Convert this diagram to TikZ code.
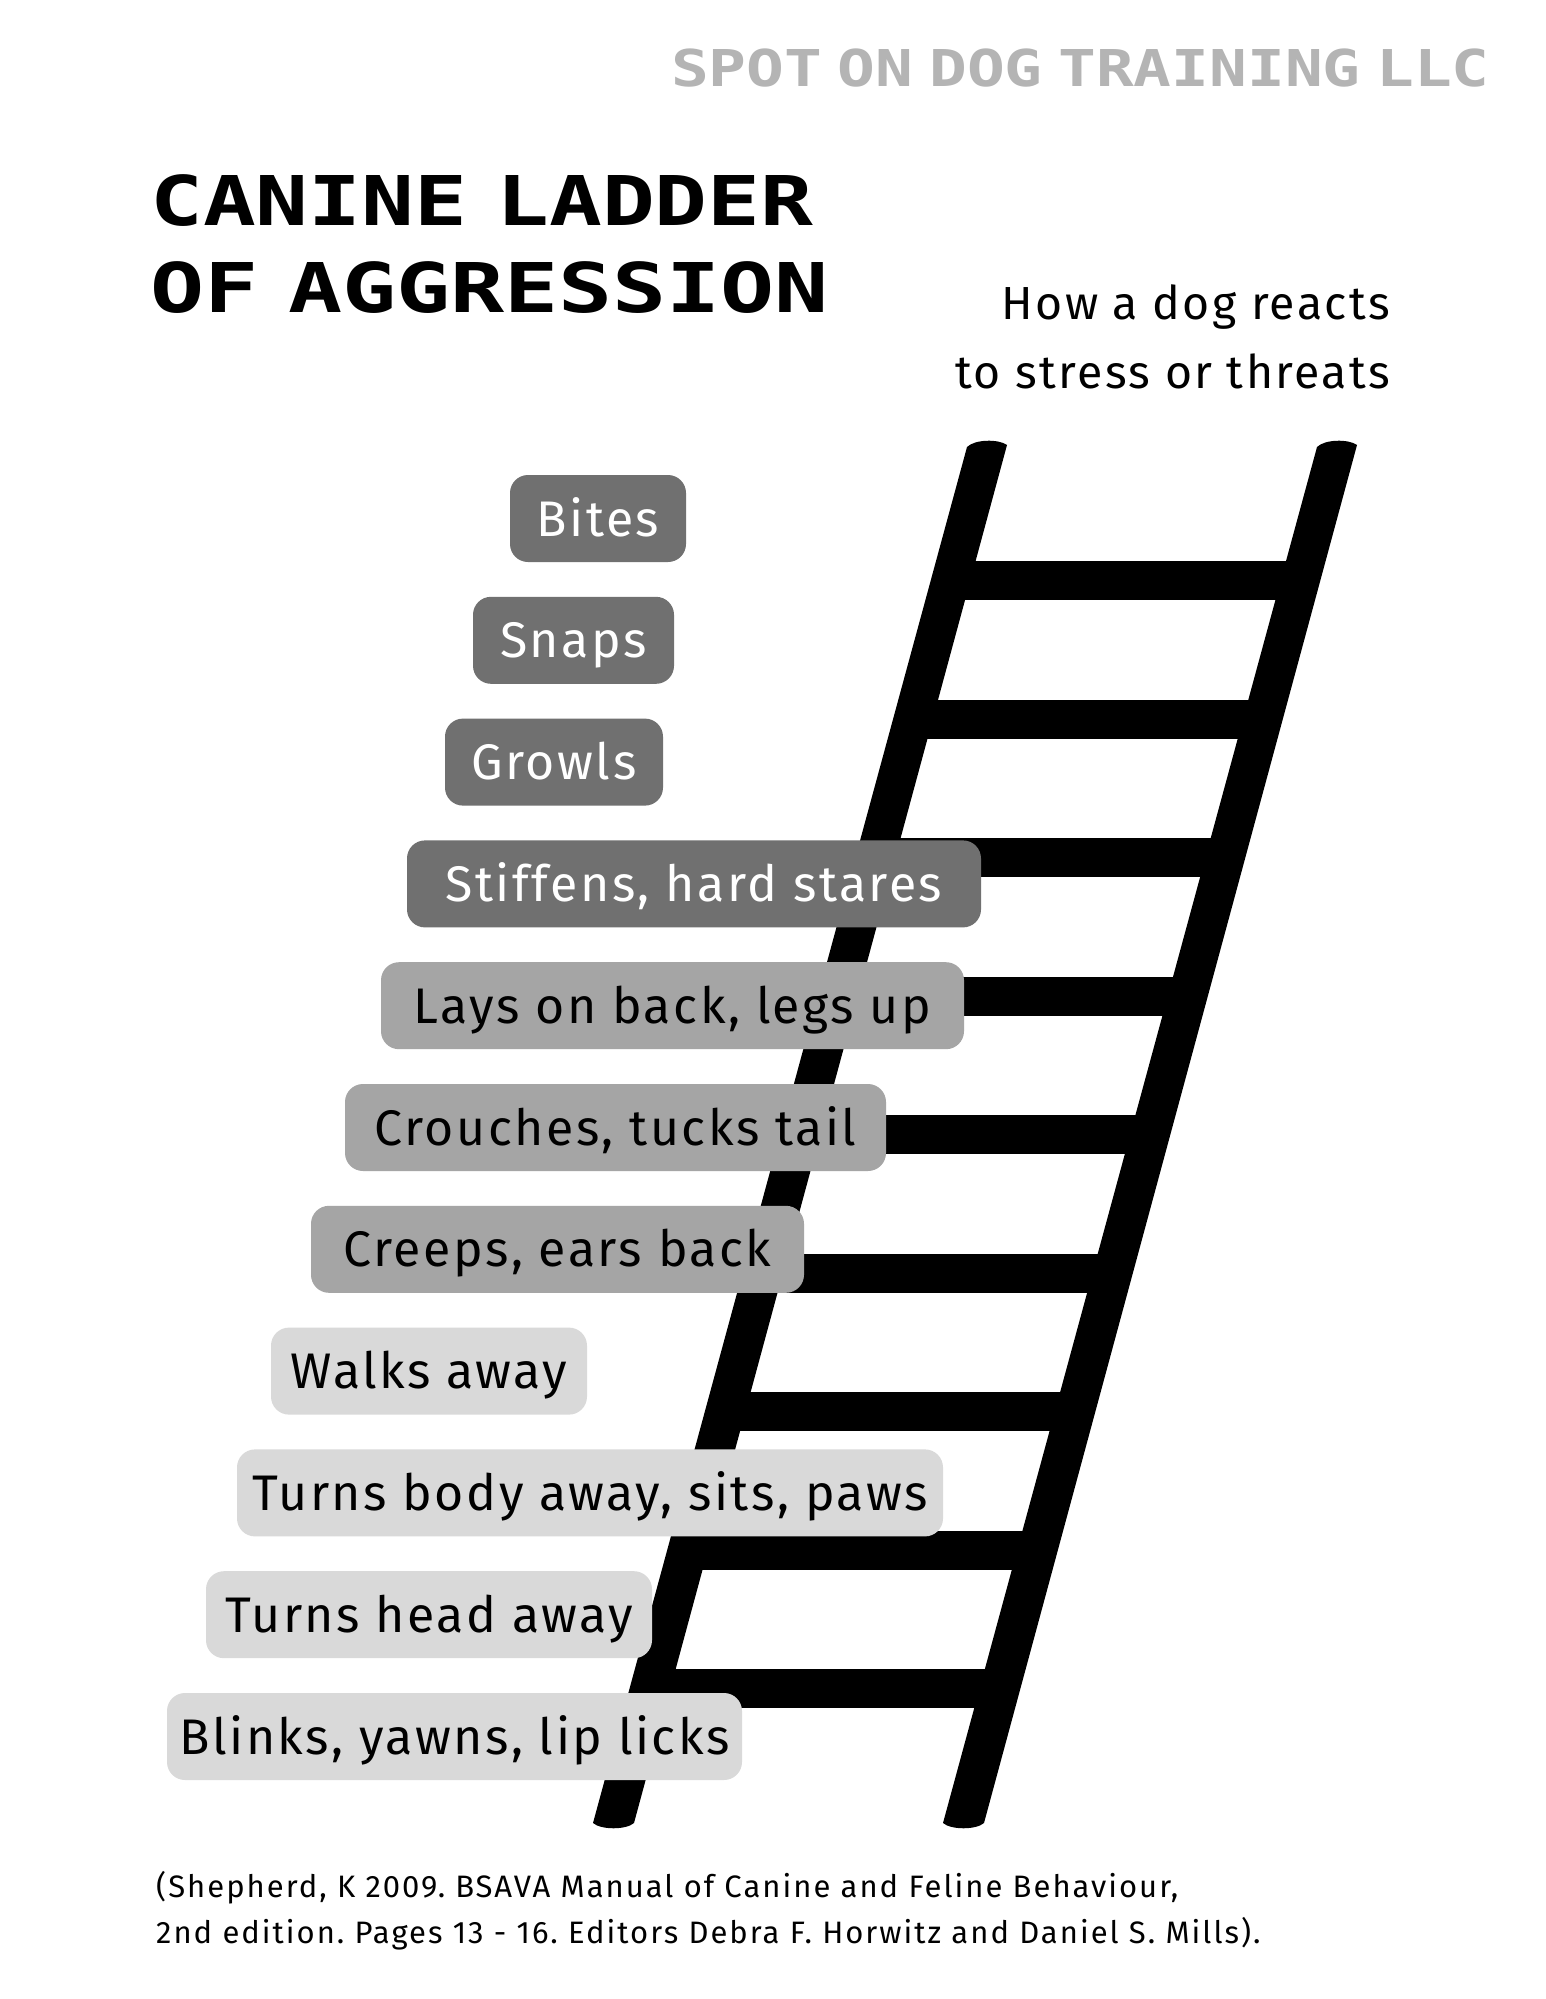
\documentclass[tikz,border=0pt]{standalone}
\usepackage{fontspec}
\usepackage{graphicx}
\setmainfont{Fira Sans}
\newfontfamily\monofont{DejaVu Sans Mono}
\newfontfamily\labfont{Fira Sans}[LetterSpace=5]
\newfontfamily\subfont{Fira Sans}[LetterSpace=5]
\newfontfamily\footfont{Fira Sans}[LetterSpace=6.5]
\frenchspacing
\definecolor{darkbox}{HTML}{707070}
\definecolor{midbox}{HTML}{A5A5A5}
\definecolor{lightbox}{HTML}{D9D9D9}
\definecolor{brandgray}{HTML}{B4B4B4}
\newcommand{\tsp}{\hspace{0.33em}}
\newcommand{\bsp}{\hspace{0.25em}}
\tikzset{
  lab/.style={rounded corners=18pt, minimum height=87pt, inner xsep=0pt, inner ysep=0pt,
    text height=35pt, text depth=0pt, align=center,
    font=\labfont\fontsize{50}{60}\selectfont},
  darklab/.style={lab, fill=darkbox, text=white},
  midlab/.style={lab, fill=midbox, text=black},
  lightlab/.style={lab, fill=lightbox, text=black},
  plain/.style={inner sep=0pt},
}
\begin{document}
\begin{tikzpicture}[x=1pt,y=-1pt]
\useasboundingbox (0,0) rectangle (1545,1999);
\fill[white] (0,0) rectangle (1545,1999);

% header
\node[plain, anchor=base east, text=brandgray] (brand) at (1490,87)
  {\scalebox{1.237}[1]{\monofont\bfseries\fontsize{50.75}{60}\selectfont SPOT\bsp ON\bsp DOG\bsp TRAINING\bsp LLC}};
\node[plain, anchor=base west] (title1) at (150,225)
  {\scalebox{1.28}[1]{\monofont\bfseries\fontsize{68.6}{80}\selectfont CANINE\tsp LADDER}};
\node[plain, anchor=base west] (title2) at (150,312)
  {\scalebox{1.31}[1]{\monofont\bfseries\fontsize{68.6}{80}\selectfont OF\tsp AGGRESSION}};
\node[plain, anchor=base east, font=\subfont\fontsize{46.4}{55}\selectfont] (sub1) at (1390,319) {How a dog reacts};
\node[plain, anchor=base east, font=\subfont\fontsize{46.4}{55}\selectfont] (sub2) at (1390,388) {to stress or threats};

% ladder rails
\fill[black] (967,447) .. controls (975,439) and (999,439) .. (1007,445)
  -- (634,1823) .. controls (626,1830) and (601,1830) .. (593,1823) -- cycle;
\fill[black] (1317,447) .. controls (1325,439) and (1349,439) .. (1357,445)
  -- (984,1823) .. controls (976,1830) and (951,1830) .. (943,1823) -- cycle;
% rungs
\foreach \k in {0,...,8}{
  \pgfmathsetmacro\yc{580.5+138.5*\k}
  \pgfmathsetmacro\xl{987-0.2712*(\yc-446)}
  \fill[black] ({\xl},{\yc-19.5}) rectangle ({\xl+350},{\yc+19.5});
}

% labels
\node[darklab, minimum width=176pt] (bites) at (598,518.5) {Bites};
\node[darklab, minimum width=201pt] (snaps) at (573.5,640.3) {Snaps};
\node[darklab, minimum width=218pt] (growls) at (554,762.1) {Growls};
\node[darklab, minimum width=574pt] (stiffens) at (694,883.9) {Stiffens, hard stares};
\node[midlab, minimum width=583pt] (lays) at (672.5,1005.7) {Lays on back, legs up};
\node[midlab, minimum width=541pt] (crouches) at (615.5,1127.5) {Crouches, tucks tail};
\node[midlab, minimum width=493pt] (creeps) at (557.5,1249.3) {Creeps, ears back};
\node[lightlab, minimum width=316pt] (walks) at (429,1371.1) {Walks away};
\node[lightlab, minimum width=706pt] (turnsbody) at (590,1492.9) {Turns body away, sits, paws};
\node[lightlab, minimum width=446pt] (turnshead) at (429,1614.7) {Turns head away};
\node[lightlab, minimum width=575pt] (blinks) at (454.5,1736.5) {Blinks, yawns, lip licks};

% footer
\node[plain, anchor=base west, font=\footfont\fontsize{31}{40}\selectfont] (ref1) at (156,1897.5)
  {(Shepherd, K 2009. BSAVA Manual of Canine and Feline Behaviour,};
\node[plain, anchor=base west, font=\footfont\fontsize{31}{40}\selectfont] (ref2) at (156,1943)
  {2nd edition. Pages 13 - 16. Editors Debra F. Horwitz and Daniel S. Mills).};
\end{tikzpicture}
\end{document}
